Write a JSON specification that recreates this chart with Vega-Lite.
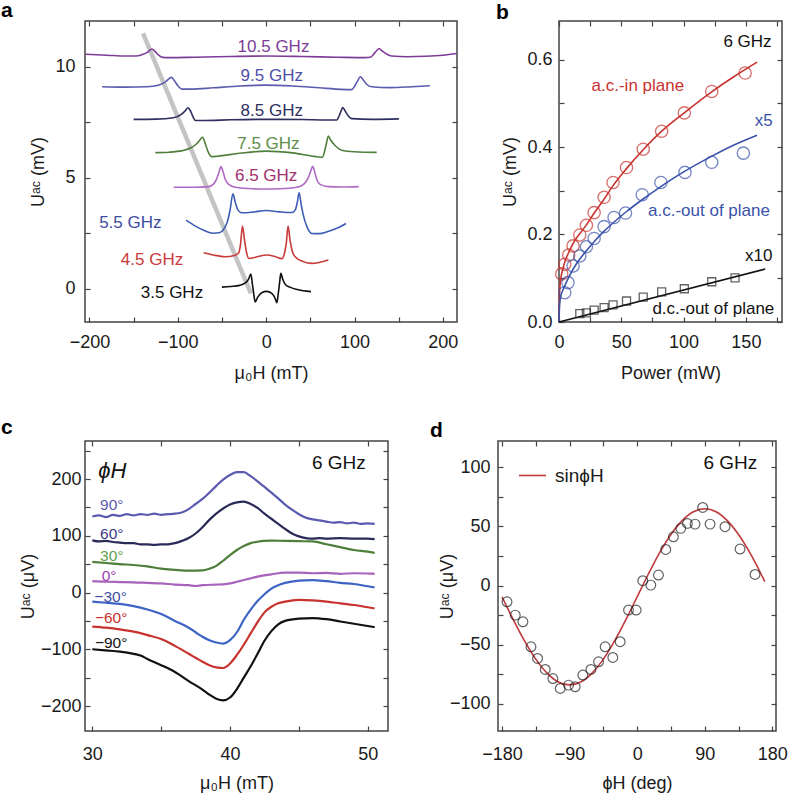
{
"$schema": "https://vega.github.io/schema/vega-lite/v6.json",
"autosize": "none",
"padding": {"left": 85, "top": 21, "right": 703, "bottom": 784},
"background": "white",
"config": {
  "font": "Liberation Sans",
  "view": {"stroke": "#444444", "strokeWidth": 1.5},
  "axis": {"grid": false, "domain": false, "tickSize": -5, "tickColor": "#444444", "tickWidth": 1.2, "labelFontSize": 18, "labelColor": "#1a1a1a", "labelFont": "Liberation Sans", "labelFlush": false, "labelOverlap": false, "titleFontSize": 18, "titleFontWeight": "normal", "titleColor": "#1a1a1a", "titleFont": "Liberation Sans"},
  "title": {"fontSize": 21, "fontWeight": "bold", "anchor": "start", "frame": "group", "baseline": "alphabetic", "color": "#000000", "font": "Liberation Sans"},
  "legend": {"padding": 0}
},
"datasets": {
  "pag": [{"x": -139.3, "y": 11.5}, {"x": -17.3, "y": -0.21}],
  "pa": [
    {"f":"10.5 GHz","x":-204.5,"y":10.56},{"f":"10.5 GHz","x":-180,"y":10.52},{"f":"10.5 GHz","x":-160,"y":10.48},{"f":"10.5 GHz","x":-148,"y":10.48},{"f":"10.5 GHz","x":-140,"y":10.55},{"f":"10.5 GHz","x":-134,"y":10.66},{"f":"10.5 GHz","x":-129.2,"y":10.8},{"f":"10.5 GHz","x":-126,"y":10.7},{"f":"10.5 GHz","x":-122,"y":10.53},{"f":"10.5 GHz","x":-117,"y":10.42},{"f":"10.5 GHz","x":-110,"y":10.41},{"f":"10.5 GHz","x":-80,"y":10.43},{"f":"10.5 GHz","x":-40,"y":10.46},{"f":"10.5 GHz","x":0,"y":10.48},{"f":"10.5 GHz","x":40,"y":10.46},{"f":"10.5 GHz","x":80,"y":10.43},{"f":"10.5 GHz","x":112,"y":10.41},{"f":"10.5 GHz","x":118,"y":10.43},{"f":"10.5 GHz","x":122,"y":10.58},{"f":"10.5 GHz","x":125,"y":10.72},{"f":"10.5 GHz","x":127.7,"y":10.82},{"f":"10.5 GHz","x":131,"y":10.72},{"f":"10.5 GHz","x":136,"y":10.58},{"f":"10.5 GHz","x":142,"y":10.48},{"f":"10.5 GHz","x":160,"y":10.45},{"f":"10.5 GHz","x":180,"y":10.47},{"f":"10.5 GHz","x":200,"y":10.52},{"f":"10.5 GHz","x":216,"y":10.6},
    {"f":"9.5 GHz","x":-185.7,"y":9.1},{"f":"9.5 GHz","x":-160,"y":9.08},{"f":"9.5 GHz","x":-135,"y":9.1},{"f":"9.5 GHz","x":-122,"y":9.17},{"f":"9.5 GHz","x":-114,"y":9.32},{"f":"9.5 GHz","x":-107.3,"y":9.52},{"f":"9.5 GHz","x":-104,"y":9.38},{"f":"9.5 GHz","x":-100,"y":9.15},{"f":"9.5 GHz","x":-95.3,"y":8.99},{"f":"9.5 GHz","x":-85,"y":8.99},{"f":"9.5 GHz","x":-60,"y":9.05},{"f":"9.5 GHz","x":-30,"y":9.13},{"f":"9.5 GHz","x":0,"y":9.17},{"f":"9.5 GHz","x":30,"y":9.13},{"f":"9.5 GHz","x":60,"y":9.05},{"f":"9.5 GHz","x":85,"y":8.98},{"f":"9.5 GHz","x":96.8,"y":8.97},{"f":"9.5 GHz","x":100,"y":9.12},{"f":"9.5 GHz","x":103.5,"y":9.36},{"f":"9.5 GHz","x":106.6,"y":9.55},{"f":"9.5 GHz","x":110,"y":9.4},{"f":"9.5 GHz","x":114,"y":9.2},{"f":"9.5 GHz","x":119.4,"y":9.1},{"f":"9.5 GHz","x":140,"y":9.06},{"f":"9.5 GHz","x":165,"y":9.1},{"f":"9.5 GHz","x":185.3,"y":9.14},
    {"f":"8.5 GHz","x":-150,"y":7.63},{"f":"8.5 GHz","x":-125,"y":7.64},{"f":"8.5 GHz","x":-105,"y":7.7},{"f":"8.5 GHz","x":-96,"y":7.85},{"f":"8.5 GHz","x":-91.5,"y":8.02},{"f":"8.5 GHz","x":-88.5,"y":8.15},{"f":"8.5 GHz","x":-85.5,"y":8.0},{"f":"8.5 GHz","x":-82.5,"y":7.72},{"f":"8.5 GHz","x":-80,"y":7.58},{"f":"8.5 GHz","x":-70,"y":7.58},{"f":"8.5 GHz","x":-40,"y":7.61},{"f":"8.5 GHz","x":0,"y":7.63},{"f":"8.5 GHz","x":40,"y":7.62},{"f":"8.5 GHz","x":70,"y":7.6},{"f":"8.5 GHz","x":79.9,"y":7.6},{"f":"8.5 GHz","x":82.5,"y":7.78},{"f":"8.5 GHz","x":85,"y":8.02},{"f":"8.5 GHz","x":86.7,"y":8.16},{"f":"8.5 GHz","x":89.5,"y":8.0},{"f":"8.5 GHz","x":93,"y":7.78},{"f":"8.5 GHz","x":97,"y":7.66},{"f":"8.5 GHz","x":120,"y":7.63},{"f":"8.5 GHz","x":150.3,"y":7.65},
    {"f":"7.5 GHz","x":-125.4,"y":6.13},{"f":"7.5 GHz","x":-110,"y":6.15},{"f":"7.5 GHz","x":-95,"y":6.22},{"f":"7.5 GHz","x":-85,"y":6.35},{"f":"7.5 GHz","x":-78,"y":6.55},{"f":"7.5 GHz","x":-74,"y":6.75},{"f":"7.5 GHz","x":-72,"y":6.82},{"f":"7.5 GHz","x":-69,"y":6.55},{"f":"7.5 GHz","x":-66,"y":6.2},{"f":"7.5 GHz","x":-61.4,"y":5.95},{"f":"7.5 GHz","x":-55,"y":5.97},{"f":"7.5 GHz","x":-30,"y":6.1},{"f":"7.5 GHz","x":0,"y":6.2},{"f":"7.5 GHz","x":30,"y":6.12},{"f":"7.5 GHz","x":55,"y":5.96},{"f":"7.5 GHz","x":63.6,"y":5.92},{"f":"7.5 GHz","x":66.5,"y":6.25},{"f":"7.5 GHz","x":68.5,"y":6.6},{"f":"7.5 GHz","x":70.4,"y":6.88},{"f":"7.5 GHz","x":73,"y":6.7},{"f":"7.5 GHz","x":78,"y":6.45},{"f":"7.5 GHz","x":85.5,"y":6.24},{"f":"7.5 GHz","x":100,"y":6.17},{"f":"7.5 GHz","x":125.1,"y":6.14},
    {"f":"6.5 GHz","x":-104.7,"y":4.57},{"f":"6.5 GHz","x":-80,"y":4.57},{"f":"6.5 GHz","x":-65,"y":4.6},{"f":"6.5 GHz","x":-60,"y":4.7},{"f":"6.5 GHz","x":-56,"y":4.95},{"f":"6.5 GHz","x":-53,"y":5.3},{"f":"6.5 GHz","x":-51.2,"y":5.5},{"f":"6.5 GHz","x":-49,"y":5.3},{"f":"6.5 GHz","x":-46.5,"y":4.95},{"f":"6.5 GHz","x":-43,"y":4.72},{"f":"6.5 GHz","x":-35,"y":4.57},{"f":"6.5 GHz","x":-15,"y":4.5},{"f":"6.5 GHz","x":0,"y":4.49},{"f":"6.5 GHz","x":15,"y":4.5},{"f":"6.5 GHz","x":35,"y":4.57},{"f":"6.5 GHz","x":43,"y":4.72},{"f":"6.5 GHz","x":47.5,"y":4.98},{"f":"6.5 GHz","x":50.5,"y":5.3},{"f":"6.5 GHz","x":52.7,"y":5.51},{"f":"6.5 GHz","x":55,"y":5.25},{"f":"6.5 GHz","x":57.5,"y":4.9},{"f":"6.5 GHz","x":61,"y":4.7},{"f":"6.5 GHz","x":70,"y":4.6},{"f":"6.5 GHz","x":85,"y":4.58},{"f":"6.5 GHz","x":104.8,"y":4.6},
    {"f":"5.5 GHz","x":-90.6,"y":3.09},{"f":"5.5 GHz","x":-80,"y":2.82},{"f":"5.5 GHz","x":-70,"y":2.62},{"f":"5.5 GHz","x":-60,"y":2.5},{"f":"5.5 GHz","x":-53,"y":2.52},{"f":"5.5 GHz","x":-48,"y":2.68},{"f":"5.5 GHz","x":-44,"y":3.0},{"f":"5.5 GHz","x":-41,"y":3.5},{"f":"5.5 GHz","x":-37.6,"y":4.28},{"f":"5.5 GHz","x":-35,"y":3.9},{"f":"5.5 GHz","x":-32,"y":3.55},{"f":"5.5 GHz","x":-27.5,"y":3.42},{"f":"5.5 GHz","x":-15,"y":3.45},{"f":"5.5 GHz","x":0,"y":3.52},{"f":"5.5 GHz","x":15,"y":3.46},{"f":"5.5 GHz","x":29,"y":3.43},{"f":"5.5 GHz","x":33,"y":3.55},{"f":"5.5 GHz","x":35.3,"y":3.9},{"f":"5.5 GHz","x":37.3,"y":4.32},{"f":"5.5 GHz","x":40,"y":3.7},{"f":"5.5 GHz","x":43.5,"y":3.1},{"f":"5.5 GHz","x":47,"y":2.72},{"f":"5.5 GHz","x":51.6,"y":2.49},{"f":"5.5 GHz","x":60,"y":2.48},{"f":"5.5 GHz","x":70,"y":2.58},{"f":"5.5 GHz","x":80,"y":2.72},{"f":"5.5 GHz","x":90.4,"y":2.94},
    {"f":"4.5 GHz","x":-70.8,"y":1.62},{"f":"4.5 GHz","x":-60,"y":1.52},{"f":"4.5 GHz","x":-46.3,"y":1.44},{"f":"4.5 GHz","x":-36,"y":1.5},{"f":"4.5 GHz","x":-31,"y":1.62},{"f":"4.5 GHz","x":-29,"y":2.0},{"f":"4.5 GHz","x":-26.8,"y":2.82},{"f":"4.5 GHz","x":-24.5,"y":2.2},{"f":"4.5 GHz","x":-22,"y":1.6},{"f":"4.5 GHz","x":-19.5,"y":1.36},{"f":"4.5 GHz","x":-12,"y":1.42},{"f":"4.5 GHz","x":0.8,"y":1.52},{"f":"4.5 GHz","x":10,"y":1.45},{"f":"4.5 GHz","x":17.7,"y":1.35},{"f":"4.5 GHz","x":20.5,"y":1.55},{"f":"4.5 GHz","x":22.8,"y":2.05},{"f":"4.5 GHz","x":24.8,"y":2.82},{"f":"4.5 GHz","x":27,"y":2.2},{"f":"4.5 GHz","x":29.5,"y":1.7},{"f":"4.5 GHz","x":32.8,"y":1.44},{"f":"4.5 GHz","x":42,"y":1.22},{"f":"4.5 GHz","x":51.6,"y":1.14},{"f":"4.5 GHz","x":60,"y":1.18},{"f":"4.5 GHz","x":70.4,"y":1.29},
    {"f":"3.5 GHz","x":-50.1,"y":0.07},{"f":"3.5 GHz","x":-40,"y":0.1},{"f":"3.5 GHz","x":-30,"y":0.15},{"f":"3.5 GHz","x":-24,"y":0.25},{"f":"3.5 GHz","x":-20,"y":0.42},{"f":"3.5 GHz","x":-17.3,"y":0.66},{"f":"3.5 GHz","x":-15.5,"y":0.2},{"f":"3.5 GHz","x":-13.8,"y":-0.3},{"f":"3.5 GHz","x":-12.4,"y":-0.6},{"f":"3.5 GHz","x":-9.5,"y":-0.38},{"f":"3.5 GHz","x":-5,"y":-0.18},{"f":"3.5 GHz","x":0.8,"y":-0.12},{"f":"3.5 GHz","x":6,"y":-0.2},{"f":"3.5 GHz","x":10,"y":-0.42},{"f":"3.5 GHz","x":12.1,"y":-0.63},{"f":"3.5 GHz","x":13.8,"y":-0.2},{"f":"3.5 GHz","x":15.3,"y":0.3},{"f":"3.5 GHz","x":16.6,"y":0.69},{"f":"3.5 GHz","x":19,"y":0.4},{"f":"3.5 GHz","x":22,"y":0.18},{"f":"3.5 GHz","x":27,"y":0.07},{"f":"3.5 GHz","x":35,"y":-0.04},{"f":"3.5 GHz","x":50.8,"y":-0.13}
  ],
  "pal": [{"f":"10.5 GHz","x":8.3,"y":10.9},{"f":"9.5 GHz","x":6.4,"y":9.58},{"f":"8.5 GHz","x":6.4,"y":8.0},{"f":"7.5 GHz","x":2.6,"y":6.5},{"f":"6.5 GHz","x":0,"y":5.08},{"f":"5.5 GHz","x":-153.7,"y":2.95},{"f":"4.5 GHz","x":-129.2,"y":1.29},{"f":"3.5 GHz","x":-106.6,"y":-0.18}],
  "pbp": [
    {"s":"a.c.-in plane","x":149.4,"y":0.569},{"s":"a.c.-in plane","x":122.6,"y":0.527},{"s":"a.c.-in plane","x":100.6,"y":0.478},{"s":"a.c.-in plane","x":82.4,"y":0.436},{"s":"a.c.-in plane","x":67.6,"y":0.395},{"s":"a.c.-in plane","x":54.2,"y":0.353},{"s":"a.c.-in plane","x":43.4,"y":0.319},{"s":"a.c.-in plane","x":36.2,"y":0.285},{"s":"a.c.-in plane","x":28.2,"y":0.25},{"s":"a.c.-in plane","x":22,"y":0.221},{"s":"a.c.-in plane","x":16.7,"y":0.199},{"s":"a.c.-in plane","x":11.3,"y":0.174},{"s":"a.c.-in plane","x":7.8,"y":0.153},{"s":"a.c.-in plane","x":4.6,"y":0.132},{"s":"a.c.-in plane","x":2.2,"y":0.11},
    {"s":"a.c.-out of plane","x":148,"y":0.386},{"s":"a.c.-out of plane","x":122.6,"y":0.365},{"s":"a.c.-out of plane","x":101.1,"y":0.342},{"s":"a.c.-out of plane","x":81.8,"y":0.319},{"s":"a.c.-out of plane","x":66.8,"y":0.291},{"s":"a.c.-out of plane","x":53.4,"y":0.249},{"s":"a.c.-out of plane","x":44.2,"y":0.239},{"s":"a.c.-out of plane","x":36.2,"y":0.218},{"s":"a.c.-out of plane","x":28.2,"y":0.191},{"s":"a.c.-out of plane","x":22,"y":0.172},{"s":"a.c.-out of plane","x":16.7,"y":0.151},{"s":"a.c.-out of plane","x":11.3,"y":0.128},{"s":"a.c.-out of plane","x":7.2,"y":0.09},{"s":"a.c.-out of plane","x":4.6,"y":0.067}
  ],
  "pbs": [{"x":141.3,"y":0.101},{"x":122.6,"y":0.092},{"x":100.6,"y":0.076},{"x":82.4,"y":0.069},{"x":67.6,"y":0.057},{"x":54.2,"y":0.048},{"x":43.4,"y":0.039},{"x":36.2,"y":0.033},{"x":28.2,"y":0.027},{"x":22,"y":0.021},{"x":16.7,"y":0.019}],
  "pbl": [
    {"s":"a.c.-in plane","x":0,"y":0},{"s":"a.c.-in plane","x":0.5,"y":0.07},{"s":"a.c.-in plane","x":1.5,"y":0.1},{"s":"a.c.-in plane","x":3,"y":0.12},{"s":"a.c.-in plane","x":5,"y":0.14},{"s":"a.c.-in plane","x":8,"y":0.16},{"s":"a.c.-in plane","x":12,"y":0.183},{"s":"a.c.-in plane","x":17,"y":0.203},{"s":"a.c.-in plane","x":22,"y":0.222},{"s":"a.c.-in plane","x":28,"y":0.248},{"s":"a.c.-in plane","x":36,"y":0.28},{"s":"a.c.-in plane","x":43,"y":0.31},{"s":"a.c.-in plane","x":54,"y":0.35},{"s":"a.c.-in plane","x":67,"y":0.392},{"s":"a.c.-in plane","x":82,"y":0.435},{"s":"a.c.-in plane","x":100,"y":0.477},{"s":"a.c.-in plane","x":122,"y":0.525},{"s":"a.c.-in plane","x":140,"y":0.56},{"s":"a.c.-in plane","x":159,"y":0.594},
    {"s":"a.c.-out of plane","x":0,"y":0},{"s":"a.c.-out of plane","x":0.5,"y":0.04},{"s":"a.c.-out of plane","x":1.5,"y":0.06},{"s":"a.c.-out of plane","x":3,"y":0.072},{"s":"a.c.-out of plane","x":5,"y":0.085},{"s":"a.c.-out of plane","x":8,"y":0.103},{"s":"a.c.-out of plane","x":12,"y":0.124},{"s":"a.c.-out of plane","x":17,"y":0.145},{"s":"a.c.-out of plane","x":22,"y":0.163},{"s":"a.c.-out of plane","x":28,"y":0.183},{"s":"a.c.-out of plane","x":36,"y":0.207},{"s":"a.c.-out of plane","x":44,"y":0.228},{"s":"a.c.-out of plane","x":54,"y":0.252},{"s":"a.c.-out of plane","x":67,"y":0.28},{"s":"a.c.-out of plane","x":82,"y":0.31},{"s":"a.c.-out of plane","x":100,"y":0.343},{"s":"a.c.-out of plane","x":122,"y":0.378},{"s":"a.c.-out of plane","x":140,"y":0.404},{"s":"a.c.-out of plane","x":159,"y":0.427},
    {"s":"d.c.-out of plane","x":0,"y":0},{"s":"d.c.-out of plane","x":165.5,"y":0.121}
  ],
  "pbt": [{"label":"6 GHz","s":"note","x":151.3,"y":0.64},{"label":"a.c.-in plane","s":"a.c.-in plane","x":63.3,"y":0.539},{"label":"x5","s":"a.c.-out of plane","x":164.4,"y":0.46},{"label":"a.c.-out of plane","s":"a.c.-out of plane","x":120.4,"y":0.254},{"label":"x10","s":"d.c.-out of plane","x":160.4,"y":0.151},{"label":"d.c.-out of plane","s":"d.c.-out of plane","x":123.9,"y":0.0305}],
  "pc": [
    {"a":"90°","x":30,"y":134},{"a":"90°","x":30.5,"y":136},{"a":"90°","x":31,"y":133},{"a":"90°","x":31.5,"y":137},{"a":"90°","x":32,"y":135},{"a":"90°","x":32.5,"y":138},{"a":"90°","x":33,"y":136},{"a":"90°","x":33.5,"y":138},{"a":"90°","x":34,"y":137},{"a":"90°","x":34.5,"y":139},{"a":"90°","x":35,"y":137},{"a":"90°","x":35.5,"y":138},{"a":"90°","x":36,"y":139},{"a":"90°","x":36.5,"y":141},{"a":"90°","x":37,"y":147},{"a":"90°","x":37.5,"y":156},{"a":"90°","x":38,"y":165},{"a":"90°","x":38.5,"y":176},{"a":"90°","x":39,"y":188},{"a":"90°","x":39.5,"y":199},{"a":"90°","x":40,"y":207},{"a":"90°","x":40.5,"y":212},{"a":"90°","x":41,"y":212},{"a":"90°","x":41.5,"y":205},{"a":"90°","x":42,"y":196},{"a":"90°","x":42.5,"y":186},{"a":"90°","x":43,"y":176},{"a":"90°","x":43.5,"y":166},{"a":"90°","x":44,"y":155},{"a":"90°","x":44.5,"y":146},{"a":"90°","x":45,"y":138},{"a":"90°","x":45.5,"y":132},{"a":"90°","x":46,"y":129},{"a":"90°","x":46.5,"y":127},{"a":"90°","x":47,"y":125},{"a":"90°","x":47.5,"y":123},{"a":"90°","x":48,"y":124},{"a":"90°","x":48.5,"y":122},{"a":"90°","x":49,"y":123},{"a":"90°","x":49.5,"y":121},{"a":"90°","x":50,"y":122},{"a":"90°","x":50.5,"y":121},
    {"a":"60°","x":30,"y":92},{"a":"60°","x":30.5,"y":90},{"a":"60°","x":31,"y":91},{"a":"60°","x":31.5,"y":89},{"a":"60°","x":32,"y":88},{"a":"60°","x":32.5,"y":87},{"a":"60°","x":33,"y":87},{"a":"60°","x":33.5,"y":85},{"a":"60°","x":34,"y":85},{"a":"60°","x":34.5,"y":84},{"a":"60°","x":35,"y":85},{"a":"60°","x":35.5,"y":85},{"a":"60°","x":36,"y":87},{"a":"60°","x":36.5,"y":91},{"a":"60°","x":37,"y":96},{"a":"60°","x":37.5,"y":104},{"a":"60°","x":38,"y":115},{"a":"60°","x":38.5,"y":128},{"a":"60°","x":39,"y":139},{"a":"60°","x":39.5,"y":148},{"a":"60°","x":40,"y":155},{"a":"60°","x":40.5,"y":159},{"a":"60°","x":41,"y":160},{"a":"60°","x":41.5,"y":156},{"a":"60°","x":42,"y":149},{"a":"60°","x":42.5,"y":139},{"a":"60°","x":43,"y":130},{"a":"60°","x":43.5,"y":121},{"a":"60°","x":44,"y":112},{"a":"60°","x":44.5,"y":104},{"a":"60°","x":45,"y":99},{"a":"60°","x":45.5,"y":96},{"a":"60°","x":46,"y":95},{"a":"60°","x":46.5,"y":96},{"a":"60°","x":47,"y":95},{"a":"60°","x":48,"y":96},{"a":"60°","x":49,"y":95},{"a":"60°","x":50,"y":95},{"a":"60°","x":50.5,"y":94},
    {"a":"30°","x":30,"y":54},{"a":"30°","x":31,"y":52},{"a":"30°","x":32,"y":50},{"a":"30°","x":33,"y":48.5},{"a":"30°","x":34,"y":46},{"a":"30°","x":35,"y":42},{"a":"30°","x":36,"y":40},{"a":"30°","x":37,"y":38.5},{"a":"30°","x":38,"y":39},{"a":"30°","x":38.5,"y":42},{"a":"30°","x":39,"y":47},{"a":"30°","x":39.5,"y":56},{"a":"30°","x":40,"y":66},{"a":"30°","x":40.5,"y":75},{"a":"30°","x":41,"y":82},{"a":"30°","x":41.5,"y":87},{"a":"30°","x":42,"y":89.5},{"a":"30°","x":42.5,"y":91},{"a":"30°","x":43,"y":91.5},{"a":"30°","x":44,"y":91},{"a":"30°","x":45,"y":90.5},{"a":"30°","x":46,"y":90},{"a":"30°","x":47,"y":85},{"a":"30°","x":48,"y":80},{"a":"30°","x":49,"y":75},{"a":"30°","x":50,"y":72},{"a":"30°","x":50.5,"y":70},
    {"a":"0°","x":30,"y":20},{"a":"0°","x":31,"y":19},{"a":"0°","x":32,"y":18.5},{"a":"0°","x":33,"y":18},{"a":"0°","x":34,"y":17},{"a":"0°","x":35,"y":16},{"a":"0°","x":36,"y":14},{"a":"0°","x":37,"y":13},{"a":"0°","x":37.5,"y":11.5},{"a":"0°","x":38,"y":13},{"a":"0°","x":39,"y":14},{"a":"0°","x":39.5,"y":14.5},{"a":"0°","x":40,"y":16},{"a":"0°","x":40.5,"y":19},{"a":"0°","x":41,"y":22},{"a":"0°","x":41.5,"y":25},{"a":"0°","x":42,"y":28},{"a":"0°","x":43,"y":32},{"a":"0°","x":44,"y":35},{"a":"0°","x":45,"y":35},{"a":"0°","x":46,"y":34},{"a":"0°","x":47,"y":34.5},{"a":"0°","x":48,"y":33},{"a":"0°","x":49,"y":34},{"a":"0°","x":50,"y":33.5},{"a":"0°","x":50.5,"y":33},
    {"a":"−30°","x":30,"y":-16},{"a":"−30°","x":31,"y":-18},{"a":"−30°","x":32,"y":-20},{"a":"−30°","x":33,"y":-24},{"a":"−30°","x":34,"y":-30},{"a":"−30°","x":35,"y":-38},{"a":"−30°","x":36,"y":-50},{"a":"−30°","x":37,"y":-62},{"a":"−30°","x":37.5,"y":-70},{"a":"−30°","x":38,"y":-78},{"a":"−30°","x":38.5,"y":-84},{"a":"−30°","x":39,"y":-88},{"a":"−30°","x":39.5,"y":-90},{"a":"−30°","x":40,"y":-84},{"a":"−30°","x":40.5,"y":-70},{"a":"−30°","x":41,"y":-48},{"a":"−30°","x":41.5,"y":-30},{"a":"−30°","x":42,"y":-15},{"a":"−30°","x":42.5,"y":-3},{"a":"−30°","x":43,"y":7},{"a":"−30°","x":43.5,"y":13},{"a":"−30°","x":44,"y":17},{"a":"−30°","x":45,"y":21},{"a":"−30°","x":46,"y":22},{"a":"−30°","x":47,"y":20},{"a":"−30°","x":48,"y":17},{"a":"−30°","x":49,"y":15},{"a":"−30°","x":50,"y":11},{"a":"−30°","x":50.5,"y":9},
    {"a":"−60°","x":30,"y":-60},{"a":"−60°","x":31,"y":-62},{"a":"−60°","x":32,"y":-65},{"a":"−60°","x":33,"y":-69},{"a":"−60°","x":34,"y":-75},{"a":"−60°","x":35,"y":-82},{"a":"−60°","x":36,"y":-94},{"a":"−60°","x":37,"y":-108},{"a":"−60°","x":37.5,"y":-115},{"a":"−60°","x":38,"y":-122},{"a":"−60°","x":38.5,"y":-128},{"a":"−60°","x":39,"y":-132},{"a":"−60°","x":39.5,"y":-133},{"a":"−60°","x":40,"y":-125},{"a":"−60°","x":40.5,"y":-110},{"a":"−60°","x":41,"y":-92},{"a":"−60°","x":41.5,"y":-72},{"a":"−60°","x":42,"y":-52},{"a":"−60°","x":42.5,"y":-35},{"a":"−60°","x":43,"y":-25},{"a":"−60°","x":43.5,"y":-19},{"a":"−60°","x":44,"y":-16},{"a":"−60°","x":45,"y":-13},{"a":"−60°","x":46,"y":-14},{"a":"−60°","x":47,"y":-16},{"a":"−60°","x":48,"y":-19},{"a":"−60°","x":49,"y":-22},{"a":"−60°","x":50,"y":-26},{"a":"−60°","x":50.5,"y":-28},
    {"a":"−90°","x":30,"y":-100},{"a":"−90°","x":31,"y":-102},{"a":"−90°","x":32,"y":-104},{"a":"−90°","x":33,"y":-108},{"a":"−90°","x":33.5,"y":-111},{"a":"−90°","x":34,"y":-117},{"a":"−90°","x":35,"y":-128},{"a":"−90°","x":36,"y":-140},{"a":"−90°","x":37,"y":-156},{"a":"−90°","x":38,"y":-171},{"a":"−90°","x":38.5,"y":-180},{"a":"−90°","x":39,"y":-187},{"a":"−90°","x":39.5,"y":-190},{"a":"−90°","x":40,"y":-185},{"a":"−90°","x":40.5,"y":-170},{"a":"−90°","x":41,"y":-150},{"a":"−90°","x":41.5,"y":-130},{"a":"−90°","x":42,"y":-108},{"a":"−90°","x":42.5,"y":-85},{"a":"−90°","x":43,"y":-68},{"a":"−90°","x":43.5,"y":-56},{"a":"−90°","x":44,"y":-50},{"a":"−90°","x":45,"y":-46},{"a":"−90°","x":46,"y":-45},{"a":"−90°","x":47,"y":-47},{"a":"−90°","x":48,"y":-51},{"a":"−90°","x":49,"y":-55},{"a":"−90°","x":50,"y":-59},{"a":"−90°","x":50.5,"y":-61}
  ],
  "pcl": [{"a":"90°","x":30.56,"y":153.6},{"a":"60°","x":30.56,"y":103.7},{"a":"30°","x":30.56,"y":63.7},{"a":"0°","x":30.68,"y":29.1},{"a":"−30°","x":30.15,"y":-7.3},{"a":"−60°","x":30.19,"y":-45},{"a":"−90°","x":30.19,"y":-89.6}],
  "pcn": [{"label":"6 GHz","x":47.9,"y":227.6}],
  "pcp": [{"label":"ϕH","x":30.44,"y":215}],
  "pdp": [{"x":-173.3,"y":-13.7},{"x":-162.3,"y":-25},{"x":-152.1,"y":-30.6},{"x":-141.4,"y":-51.8},{"x":-132.6,"y":-61.6},{"x":-122.4,"y":-70.9},{"x":-112.2,"y":-78.6},{"x":-102.4,"y":-87},{"x":-91.3,"y":-84.2},{"x":-82.5,"y":-85.6},{"x":-72.3,"y":-75.7},{"x":-61.6,"y":-70.9},{"x":-51.4,"y":-64.5},{"x":-42.6,"y":-51.8},{"x":-32.4,"y":-60.8},{"x":-22.6,"y":-47.5},{"x":-11.5,"y":-20.7},{"x":-1.3,"y":-20.7},{"x":7.5,"y":4.1},{"x":18.2,"y":0.4},{"x":28.4,"y":8.9},{"x":38.1,"y":30.6},{"x":48.3,"y":41.3},{"x":58.1,"y":48.4},{"x":66.9,"y":52.6},{"x":77.1,"y":52},{"x":87.3,"y":66.1},{"x":97.1,"y":52},{"x":117,"y":49.8},{"x":137,"y":30.9},{"x":157,"y":9.4}],
  "pdl": [{"s":"sinϕH","x":-180,"y":-9.5},{"s":"sinϕH","x":-165,"y":-28.8},{"s":"sinϕH","x":-150,"y":-46.8},{"s":"sinϕH","x":-135,"y":-62.2},{"s":"sinϕH","x":-120,"y":-74},{"s":"sinϕH","x":-105,"y":-81.5},{"s":"sinϕH","x":-90,"y":-84},{"s":"sinϕH","x":-75,"y":-81.5},{"s":"sinϕH","x":-60,"y":-74},{"s":"sinϕH","x":-45,"y":-62.2},{"s":"sinϕH","x":-30,"y":-46.8},{"s":"sinϕH","x":-15,"y":-28.8},{"s":"sinϕH","x":0,"y":-9.5},{"s":"sinϕH","x":15,"y":9.8},{"s":"sinϕH","x":30,"y":27.8},{"s":"sinϕH","x":45,"y":43.2},{"s":"sinϕH","x":60,"y":55},{"s":"sinϕH","x":75,"y":62.5},{"s":"sinϕH","x":90,"y":65},{"s":"sinϕH","x":105,"y":62.5},{"s":"sinϕH","x":120,"y":55},{"s":"sinϕH","x":135,"y":43.2},{"s":"sinϕH","x":150,"y":27.8},{"s":"sinϕH","x":165,"y":9.8},{"s":"sinϕH","x":170,"y":3.4}],
  "pdn": [{"label":"6 GHz","x":124.1,"y":103.4}]
},
"bounds": "full",
"spacing": 33,
"resolve": {"scale": {"color": "independent"}, "legend": {"color": "independent"}},
"vconcat": [
 {"hconcat": [
  {
    "width": 372, "height": 301,
    "title": {"text": "a", "offset": 8, "dx": -84, "dy": 9},
    "resolve": {"scale": {"color": "independent"}},
    "layer": [
      {"data": {"name": "pag"}, "mark": {"type": "line", "color": "#c4c4c4", "strokeWidth": 4.5, "strokeCap": "butt"},
       "encoding": {
         "x": {"field": "x", "type": "quantitative", "scale": {"domain": [-205, 216], "nice": false, "zero": false},
               "axis": {"orient": "bottom", "values": [-200,-150,-100,-50,0,50,100,150,200], "labelExpr": "datum.value % 100 === 0 ? datum.label : ''", "title": "μ₀H (mT)", "titleY": 56, "titleBaseline": "alphabetic", "labelPadding": 16.5}},
         "y": {"field": "y", "type": "quantitative", "scale": {"domain": [-1.5, 12.06], "nice": false, "zero": false},
               "axis": {"orient": "left", "values": [0,2.5,5,7.5,10], "labelExpr": "datum.value % 5 === 0 ? datum.label : ''", "title": "Uᵃᶜ (mV)", "titleX": -42, "titleBaseline": "alphabetic", "labelPadding": 15}}
       }},
      {"data": {"name": "pa"}, "mark": {"type": "line", "strokeWidth": 1.6, "interpolate": "monotone"},
       "encoding": {
         "x": {"field": "x", "type": "quantitative", "scale": {"domain": [-205, 216], "nice": false, "zero": false},
               "axis": {"orient": "top", "values": [-200,-150,-100,-50,0,50,100,150,200], "labels": false, "title": null}},
         "y": {"field": "y", "type": "quantitative", "scale": {"domain": [-1.5, 12.06], "nice": false, "zero": false},
               "axis": {"orient": "right", "values": [0,2.5,5,7.5,10], "labels": false, "title": null}},
         "color": {"field": "f", "type": "nominal", "legend": null,
                   "scale": {"domain": ["10.5 GHz","9.5 GHz","8.5 GHz","7.5 GHz","6.5 GHz","5.5 GHz","4.5 GHz","3.5 GHz"], "range": ["#7D3C98","#5B5BAF","#2F2F5F","#4F7F3C","#B06AC4","#3E5DB5","#C93A3A","#111111"]}}
       }},
      {"data": {"name": "pal"}, "mark": {"type": "text", "fontSize": 17, "align": "center", "baseline": "middle"},
       "encoding": {
         "x": {"field": "x", "type": "quantitative", "scale": {"domain": [-205, 216], "nice": false, "zero": false}, "axis": null},
         "y": {"field": "y", "type": "quantitative", "scale": {"domain": [-1.5, 12.06], "nice": false, "zero": false}, "axis": null},
         "text": {"field": "f"},
         "color": {"field": "f", "type": "nominal", "legend": null,
                   "scale": {"domain": ["10.5 GHz","9.5 GHz","8.5 GHz","7.5 GHz","6.5 GHz","5.5 GHz","4.5 GHz","3.5 GHz"], "range": ["#7D3C98","#4E4EA6","#2F2F5F","#5E8E48","#A0306E","#3D4C9F","#C93A3A","#111111"]}}
       }}
    ]
  },
  {
    "width": 223, "height": 301,
    "title": {"text": "b", "offset": 4, "dx": -63, "dy": 7},
    "layer": [
      {"data": {"name": "pbl"}, "mark": {"type": "line", "strokeWidth": 1.6, "interpolate": "monotone"},
       "encoding": {
         "x": {"field": "x", "type": "quantitative", "scale": {"domain": [0, 179], "nice": false, "zero": false},
               "axis": {"orient": "bottom", "values": [0,25,50,75,100,125,150,175], "labelExpr": "datum.value % 50 === 0 ? datum.label : ''", "title": "Power (mW)", "titleY": 56, "titleBaseline": "alphabetic", "labelPadding": 16.5}},
         "y": {"field": "y", "type": "quantitative", "scale": {"domain": [0, 0.688], "nice": false, "zero": false},
               "axis": {"orient": "left", "values": [0,0.1,0.2,0.3,0.4,0.5,0.6], "labelExpr": "round(datum.value*10) % 2 === 0 ? format(datum.value, '.1f') : ''", "title": "Uᵃᶜ (mV)", "titleX": -44, "titleBaseline": "alphabetic", "labelPadding": 12}},
         "color": {"field": "s", "type": "nominal", "legend": null,
                   "scale": {"domain": ["a.c.-in plane","a.c.-out of plane","d.c.-out of plane","note"], "range": ["#C8322F","#3A53AA","#111111","#111111"]}}
       }},
      {"data": {"name": "pbp"}, "mark": {"type": "point", "shape": "circle", "filled": false, "size": 150, "strokeWidth": 1.3},
       "encoding": {
         "x": {"field": "x", "type": "quantitative", "scale": {"domain": [0, 179], "nice": false, "zero": false},
               "axis": {"orient": "top", "values": [0,25,50,75,100,125,150,175], "labels": false, "title": null}},
         "y": {"field": "y", "type": "quantitative", "scale": {"domain": [0, 0.688], "nice": false, "zero": false},
               "axis": {"orient": "right", "values": [0,0.1,0.2,0.3,0.4,0.5,0.6], "labels": false, "title": null}},
         "color": {"field": "s", "type": "nominal", "legend": null}
       }},
      {"data": {"name": "pbs"}, "mark": {"type": "point", "shape": "square", "filled": false, "size": 64, "strokeWidth": 1.3, "color": "#222222"},
       "encoding": {
         "x": {"field": "x", "type": "quantitative", "scale": {"domain": [0, 179], "nice": false, "zero": false}, "axis": null},
         "y": {"field": "y", "type": "quantitative", "scale": {"domain": [0, 0.688], "nice": false, "zero": false}, "axis": null}
       }},
      {"data": {"name": "pbt"}, "mark": {"type": "text", "fontSize": 17, "align": "center", "baseline": "middle"},
       "encoding": {
         "x": {"field": "x", "type": "quantitative", "scale": {"domain": [0, 179], "nice": false, "zero": false}, "axis": null},
         "y": {"field": "y", "type": "quantitative", "scale": {"domain": [0, 0.688], "nice": false, "zero": false}, "axis": null},
         "text": {"field": "label"},
         "color": {"field": "s", "type": "nominal", "legend": null}
       }}
    ]
  }
 ], "spacing": 102, "bounds": "flush", "resolve": {"scale": {"color": "independent"}, "legend": {"color": "independent"}}},
 {"hconcat": [
  {
    "width": 303, "height": 290,
    "title": {"text": "c", "offset": 8, "dx": -84, "dy": 6},
    "resolve": {"scale": {"color": "independent"}},
    "layer": [
      {"data": {"name": "pc"}, "mark": {"type": "line", "strokeWidth": 2.2, "interpolate": "monotone"},
       "encoding": {
         "x": {"field": "x", "type": "quantitative", "scale": {"domain": [29.47, 51.47], "nice": false, "zero": false},
               "axis": {"orient": "bottom", "values": [30,35,40,45,50], "labelExpr": "datum.value % 10 === 0 ? datum.label : ''", "title": "μ₀H (mT)", "titleY": 57, "titleBaseline": "alphabetic", "labelPadding": 19.5}},
         "y": {"field": "y", "type": "quantitative", "scale": {"domain": [-244, 267], "nice": false, "zero": false},
               "axis": {"orient": "left", "values": [-200,-150,-100,-50,0,50,100,150,200,250], "labelExpr": "datum.value % 100 === 0 ? datum.label : ''", "title": "Uᵃᶜ (μV)", "titleX": -52, "titleBaseline": "alphabetic", "labelPadding": 9}},
         "color": {"field": "a", "type": "nominal", "legend": null,
                   "scale": {"domain": ["90°","60°","30°","0°","−30°","−60°","−90°"], "range": ["#5A5AB0","#2A2A58","#4E7F3A","#A864BC","#3D63C5","#C8322F","#111111"]}}
       }},
      {"data": {"name": "pcl"}, "mark": {"type": "text", "fontSize": 15.5, "align": "left", "baseline": "middle"},
       "encoding": {
         "x": {"field": "x", "type": "quantitative", "scale": {"domain": [29.47, 51.47], "nice": false, "zero": false},
               "axis": {"orient": "top", "values": [30,35,40,45,50], "labels": false, "title": null}},
         "y": {"field": "y", "type": "quantitative", "scale": {"domain": [-244, 267], "nice": false, "zero": false},
               "axis": {"orient": "right", "values": [-200,-150,-100,-50,0,50,100,150,200,250], "labels": false, "title": null}},
         "text": {"field": "a"},
         "color": {"field": "a", "type": "nominal", "legend": null,
                   "scale": {"domain": ["90°","60°","30°","0°","−30°","−60°","−90°"], "range": ["#5A5AB0","#3A3A86","#5E9E4E","#A040B0","#3D50A5","#C8322F","#111111"]}}
       }},
      {"data": {"name": "pcn"}, "mark": {"type": "text", "fontSize": 19, "align": "center", "baseline": "middle", "color": "#111111"},
       "encoding": {
         "x": {"field": "x", "type": "quantitative", "scale": {"domain": [29.47, 51.47], "nice": false, "zero": false}, "axis": null},
         "y": {"field": "y", "type": "quantitative", "scale": {"domain": [-244, 267], "nice": false, "zero": false}, "axis": null},
         "text": {"field": "label"}
       }},
      {"data": {"name": "pcp"}, "mark": {"type": "text", "fontSize": 22, "fontStyle": "italic", "align": "left", "baseline": "middle", "color": "#111111"},
       "encoding": {
         "x": {"field": "x", "type": "quantitative", "scale": {"domain": [29.47, 51.47], "nice": false, "zero": false}, "axis": null},
         "y": {"field": "y", "type": "quantitative", "scale": {"domain": [-244, 267], "nice": false, "zero": false}, "axis": null},
         "text": {"field": "label"}
       }}
    ]
  },
  {
    "width": 278, "height": 290,
    "title": {"text": "d", "offset": 3, "dx": -68, "dy": 4},
    "layer": [
      {"data": {"name": "pdl"}, "mark": {"type": "line", "strokeWidth": 1.6, "interpolate": "monotone"},
       "encoding": {
         "x": {"field": "x", "type": "quantitative", "scale": {"domain": [-185.3, 184.9], "nice": false, "zero": false},
               "axis": {"orient": "bottom", "values": [-180,-135,-90,-45,0,45,90,135,180], "labelExpr": "datum.value % 90 === 0 ? datum.label : ''", "title": "ϕH (deg)", "titleY": 57, "titleBaseline": "alphabetic", "labelPadding": 19.5}},
         "y": {"field": "y", "type": "quantitative", "scale": {"domain": [-123, 122.3], "nice": false, "zero": false},
               "axis": {"orient": "left", "values": [-100,-75,-50,-25,0,25,50,75,100], "labelExpr": "datum.value % 50 === 0 ? datum.label : ''", "title": "Uᵃᶜ (μV)", "titleX": -46, "titleBaseline": "alphabetic", "labelPadding": 13}},
         "color": {"field": "s", "type": "nominal",
                   "scale": {"domain": ["sinϕH"], "range": ["#C0393B"]},
                   "legend": {"orient": "none", "legendX": 20, "legendY": 20, "title": null, "symbolType": "stroke", "symbolSize": 729, "symbolStrokeWidth": 1.6, "labelFontSize": 19, "labelOffset": 8, "labelColor": "#1a1a1a", "labelFont": "Liberation Sans"}}
       }},
      {"data": {"name": "pdp"}, "mark": {"type": "point", "shape": "circle", "filled": false, "size": 95, "strokeWidth": 1.2, "color": "#222222"},
       "encoding": {
         "x": {"field": "x", "type": "quantitative", "scale": {"domain": [-185.3, 184.9], "nice": false, "zero": false},
               "axis": {"orient": "top", "values": [-180,-135,-90,-45,0,45,90,135,180], "labels": false, "title": null}},
         "y": {"field": "y", "type": "quantitative", "scale": {"domain": [-123, 122.3], "nice": false, "zero": false},
               "axis": {"orient": "right", "values": [-100,-75,-50,-25,0,25,50,75,100], "labels": false, "title": null}}
       }},
      {"data": {"name": "pdn"}, "mark": {"type": "text", "fontSize": 19, "align": "center", "baseline": "middle", "color": "#111111"},
       "encoding": {
         "x": {"field": "x", "type": "quantitative", "scale": {"domain": [-185.3, 184.9], "nice": false, "zero": false}, "axis": null},
         "y": {"field": "y", "type": "quantitative", "scale": {"domain": [-123, 122.3], "nice": false, "zero": false}, "axis": null},
         "text": {"field": "label"}
       }}
    ]
  }
 ], "spacing": 110, "bounds": "flush", "resolve": {"scale": {"color": "independent"}, "legend": {"color": "independent"}}}
]
}
